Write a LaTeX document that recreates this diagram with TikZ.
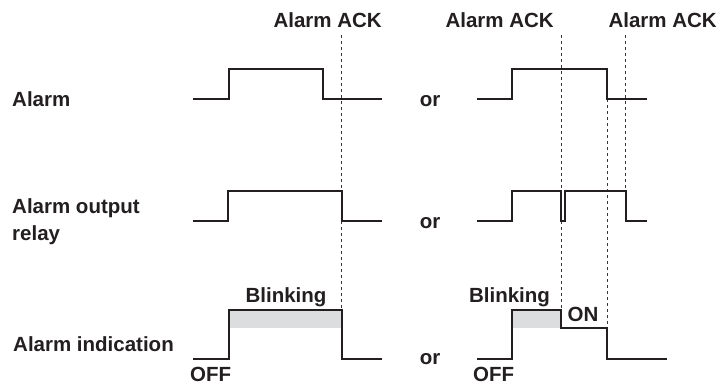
\documentclass[tikz,border=0pt]{standalone}
\usepackage{fontspec}
\setmainfont{Liberation Sans}
\definecolor{ink}{HTML}{231F20}
\definecolor{blink}{HTML}{DCDDDE}
\begin{document}
\begin{tikzpicture}[x=1pt,y=-1pt,
  lbl/.style={inner sep=0pt,font=\fontsize{20.5}{27}\selectfont\bfseries,text=ink},
  wave/.style={draw=ink,line width=2.5pt,line join=miter,line cap=butt},
  ack/.style={draw=ink!90,line width=1pt,dash pattern=on 3.5pt off 2.5pt},
  shade/.style={fill=blink,draw=none}]
\useasboundingbox (0,0) rectangle (721,382);
% labels
\node[lbl,anchor=base west] (lalarm) at (12,107) {Alarm};
\node[lbl,anchor=base west,align=left] (lrelay) at (12,241) {Alarm output\\relay};
\node[lbl,anchor=base west] (lind) at (13,352) {Alarm indication};
\node[lbl,anchor=base] (or1) at (430,107) {or};
\node[lbl,anchor=base] (or2) at (430,229) {or};
\node[lbl,anchor=base] (or3) at (430,365) {or};
\node[lbl,anchor=base east] (ack1) at (382,28) {Alarm ACK};
\node[lbl,anchor=base east] (ack2) at (554,28) {Alarm ACK};
\node[lbl,anchor=base east] (ack3) at (717,28) {Alarm ACK};
% shaded blinking
\path[shade] (229,310) rectangle (342,328);
\path[shade] (512,310) rectangle (561,328);
% dashed ACK lines
\draw[ack] (341,35) -- (341,310);
\draw[ack] (561,35) -- (561,310);
\draw[ack] (607,99) -- (607,328);
\draw[ack] (625,35) -- (625,191);
% left waveforms
\draw[wave] (193,99) -- (229,99) -- (229,69) -- (323,69) -- (323,99) -- (382,99);
\draw[wave] (193,221) -- (228,221) -- (228,191) -- (342,191) -- (342,221) -- (382,221);
\draw[wave] (193,359) -- (229,359) -- (229,310) -- (342,310) -- (342,359) -- (382,359);
% right waveforms
\draw[wave] (477,99) -- (512,99) -- (512,69) -- (607,69) -- (607,99) -- (647,99);
\draw[wave] (477,221) -- (512,221) -- (512,191) -- (561,191) -- (561,221) -- (565,221) -- (565,191) -- (626,191) -- (626,221) -- (647,221);
\draw[wave] (477,359) -- (512,359) -- (512,310) -- (561,310) -- (561,328) -- (607,328) -- (607,359) -- (667,359);
% state labels
\node[lbl,anchor=base] (blink1) at (286,303) {Blinking};
\node[lbl,anchor=base] (blink2) at (509.5,303) {Blinking};
\node[lbl,anchor=base] (on2) at (583,322) {ON};
\node[lbl,anchor=base west] (off1) at (190,381.5) {OFF};
\node[lbl,anchor=base west] (off2) at (473,381.5) {OFF};
\end{tikzpicture}
\end{document}
